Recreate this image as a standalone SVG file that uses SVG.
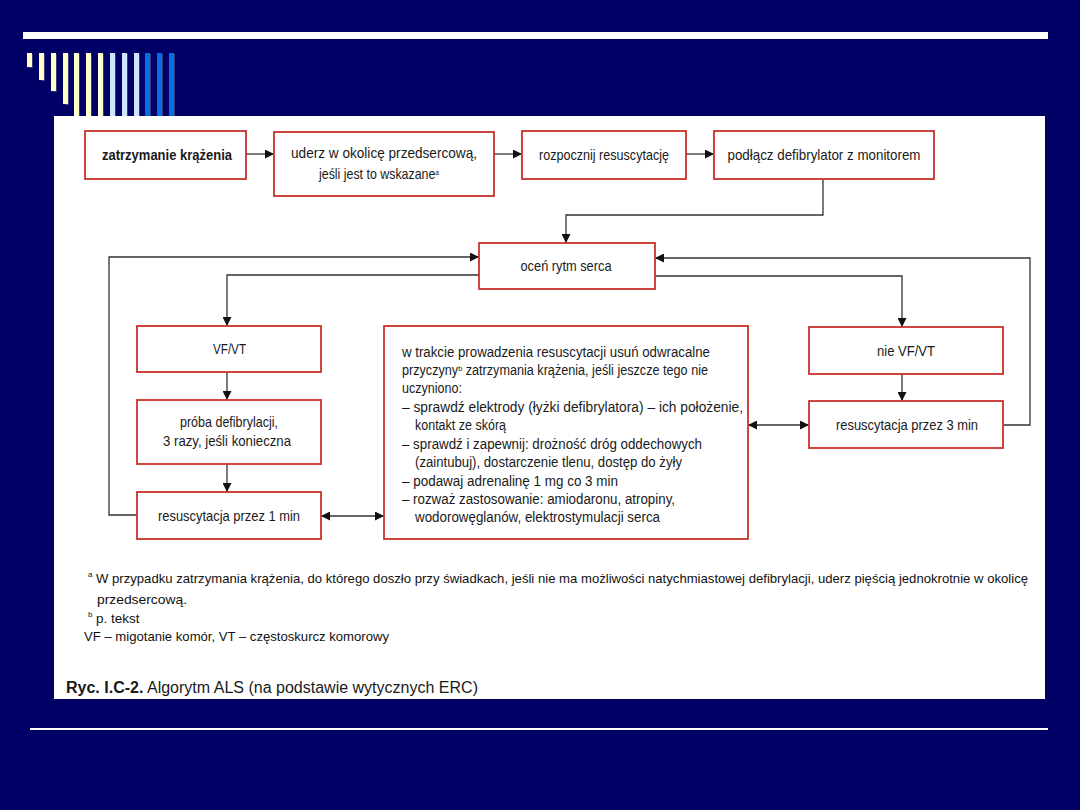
<svg xmlns="http://www.w3.org/2000/svg" width="1080" height="810" viewBox="0 0 1080 810">
<defs>
<marker id="ah" viewBox="0 0 10 10" refX="10" refY="5" markerWidth="10" markerHeight="9" markerUnits="userSpaceOnUse" orient="auto-start-reverse">
<path d="M0,0 L10,5 L0,10 z" fill="#111"/>
</marker>
<style>
.box{fill:#fff;stroke:#c9342a;stroke-width:1.8}
.t{font-family:"Liberation Sans",Arial,sans-serif;font-size:15px;fill:#1a1a1a}
.tb{font-family:"Liberation Sans",Arial,sans-serif;font-size:15px;font-weight:bold;fill:#1a1a1a}
.c{text-anchor:middle}
.m{font-family:"Liberation Sans",Arial,sans-serif;font-size:14px;fill:#1a1a1a}
.f{font-family:"Liberation Sans",Arial,sans-serif;font-size:13.5px;fill:#111}
.sup{font-size:8px}
.cap{font-family:"Liberation Sans",Arial,sans-serif;font-size:16px;fill:#1a1a1a}
.ln{fill:none;stroke:#333;stroke-width:1.3}
.cr{fill:#ffffcc}
.lb{fill:#cce6ff}
.bl{fill:#0070e6}
.sh{fill:#3a3a7a}
</style>
</defs>
<rect x="0" y="0" width="1080" height="810" fill="#000066"/>
<g id="decoration">
<rect x="23" y="32" width="1025" height="7" fill="#ffffff"/>
<rect x="30" y="728" width="1018" height="2" fill="#ffffff"/>
<rect class="sh" x="29" y="54" width="4" height="14"/>
<rect class="sh" x="41" y="54" width="4" height="27"/>
<rect class="sh" x="53" y="54" width="4" height="38"/>
<rect class="sh" x="65" y="54" width="4" height="51"/>
<rect class="sh" x="76" y="54" width="4" height="62"/>
<rect class="sh" x="88" y="54" width="4" height="62"/>
<rect class="sh" x="100" y="54" width="4" height="62"/>
<rect class="sh" x="112" y="54" width="4" height="62"/>
<rect class="sh" x="124" y="54" width="4" height="62"/>
<rect class="sh" x="136" y="54" width="4" height="62"/>
<rect class="sh" x="147" y="54" width="4" height="62"/>
<rect class="sh" x="159" y="54" width="4" height="62"/>
<rect class="sh" x="171" y="54" width="4" height="62"/>
<rect class="cr" x="27" y="53" width="5" height="14"/>
<rect class="cr" x="39" y="53" width="5" height="27"/>
<rect class="cr" x="51" y="53" width="5" height="38"/>
<rect class="cr" x="63" y="53" width="5" height="51"/>
<rect class="cr" x="74" y="53" width="5" height="63"/>
<rect class="cr" x="86" y="53" width="5" height="63"/>
<rect class="cr" x="98" y="53" width="5" height="63"/>
<rect class="lb" x="110" y="53" width="5" height="63"/>
<rect class="lb" x="122" y="53" width="5" height="63"/>
<rect class="lb" x="134" y="53" width="5" height="63"/>
<rect class="bl" x="145" y="53" width="5" height="63"/>
<rect class="bl" x="157" y="53" width="5" height="63"/>
<rect class="bl" x="169" y="53" width="5" height="63"/>
</g>
<rect x="54" y="116" width="991" height="583" fill="#ffffff"/>
<g id="connectors">
<line class="ln" x1="246" y1="154" x2="274" y2="154" marker-end="url(#ah)"/>
<line class="ln" x1="494" y1="154" x2="522" y2="154" marker-end="url(#ah)"/>
<line class="ln" x1="686" y1="154" x2="714" y2="154" marker-end="url(#ah)"/>
<polyline class="ln" points="823,179 823,215 566,215 566,243" marker-end="url(#ah)"/>
<polyline class="ln" points="137,515 109,515 109,257 479,257" marker-end="url(#ah)"/>
<polyline class="ln" points="479,275 227,275 227,326" marker-end="url(#ah)"/>
<polyline class="ln" points="655,276 902,276 902,327" marker-end="url(#ah)"/>
<polyline class="ln" points="1003,425 1030,425 1030,258 655,258" marker-end="url(#ah)"/>
<line class="ln" x1="227" y1="372" x2="227" y2="400" marker-end="url(#ah)"/>
<line class="ln" x1="227" y1="464" x2="227" y2="492" marker-end="url(#ah)"/>
<line class="ln" x1="902" y1="374" x2="902" y2="401" marker-end="url(#ah)"/>
<line class="ln" x1="321" y1="516" x2="384" y2="516" marker-start="url(#ah)" marker-end="url(#ah)"/>
<line class="ln" x1="748" y1="425" x2="809" y2="425" marker-start="url(#ah)" marker-end="url(#ah)"/>
</g>
<g id="n1">
<rect class="box" x="85" y="131" width="161" height="48"/>
<text class="tb c" x="167" y="160" textLength="130" lengthAdjust="spacingAndGlyphs">zatrzymanie krążenia</text>
</g>
<g id="n2">
<rect class="box" x="274" y="132" width="220" height="64"/>
<text class="t c" x="384" y="158" textLength="186" lengthAdjust="spacingAndGlyphs">uderz w okolicę przedsercową,</text>
<text class="t c" x="379" y="179" textLength="120" lengthAdjust="spacingAndGlyphs">jeśli jest to wskazane<tspan class="sup" dy="-4">a</tspan></text>
</g>
<g id="n3">
<rect class="box" x="522" y="131" width="164" height="48"/>
<text class="t c" x="604" y="160" textLength="130" lengthAdjust="spacingAndGlyphs">rozpocznij resuscytację</text>
</g>
<g id="n4">
<rect class="box" x="714" y="131" width="220" height="48"/>
<text class="t c" x="824" y="160" textLength="193" lengthAdjust="spacingAndGlyphs">podłącz defibrylator z monitorem</text>
</g>
<g id="n5">
<rect class="box" x="479" y="243" width="176" height="46"/>
<text class="t c" x="566" y="271" textLength="91" lengthAdjust="spacingAndGlyphs">oceń rytm serca</text>
</g>
<g id="n6">
<rect class="box" x="137" y="326" width="184" height="46"/>
<text class="t c" x="229.5" y="354" textLength="33" lengthAdjust="spacingAndGlyphs">VF/VT</text>
</g>
<g id="n7">
<rect class="box" x="137" y="400" width="184" height="64"/>
<text class="t c" x="229" y="427" textLength="98" lengthAdjust="spacingAndGlyphs">próba defibrylacji,</text>
<text class="t c" x="227" y="446" textLength="128" lengthAdjust="spacingAndGlyphs">3 razy, jeśli konieczna</text>
</g>
<g id="n8">
<rect class="box" x="137" y="492" width="184" height="47"/>
<text class="t c" x="229" y="521" textLength="142" lengthAdjust="spacingAndGlyphs">resuscytacja przez 1 min</text>
</g>
<g id="n9">
<rect class="box" x="384" y="326" width="364" height="213"/>
<text class="m" x="402" y="357" textLength="308" lengthAdjust="spacingAndGlyphs">w trakcie prowadzenia resuscytacji usuń odwracalne</text>
<text class="m" x="402" y="375" textLength="306" lengthAdjust="spacingAndGlyphs">przyczyny<tspan class="sup" dy="-4">b</tspan><tspan dy="4"> zatrzymania krążenia, jeśli jeszcze tego nie</tspan></text>
<text class="m" x="402" y="393" textLength="60" lengthAdjust="spacingAndGlyphs">uczyniono:</text>
<text class="m" x="402" y="412" textLength="341" lengthAdjust="spacingAndGlyphs">– sprawdź elektrody (łyżki defibrylatora) – ich położenie,</text>
<text class="m" x="415" y="430" textLength="91" lengthAdjust="spacingAndGlyphs">kontakt ze skórą</text>
<text class="m" x="402" y="449" textLength="300" lengthAdjust="spacingAndGlyphs">– sprawdź i zapewnij: drożność dróg oddechowych</text>
<text class="m" x="415" y="467" textLength="267" lengthAdjust="spacingAndGlyphs">(zaintubuj), dostarczenie tlenu, dostęp do żyły</text>
<text class="m" x="402" y="486" textLength="216" lengthAdjust="spacingAndGlyphs">– podawaj adrenalinę 1 mg co 3 min</text>
<text class="m" x="402" y="504" textLength="273" lengthAdjust="spacingAndGlyphs">– rozważ zastosowanie: amiodaronu, atropiny,</text>
<text class="m" x="415" y="522" textLength="245" lengthAdjust="spacingAndGlyphs">wodorowęglanów, elektrostymulacji serca</text>
</g>
<g id="n10">
<rect class="box" x="809" y="327" width="194" height="47"/>
<text class="t c" x="906" y="356" textLength="58" lengthAdjust="spacingAndGlyphs">nie VF/VT</text>
</g>
<g id="n11">
<rect class="box" x="809" y="401" width="194" height="47"/>
<text class="t c" x="907" y="430" textLength="142" lengthAdjust="spacingAndGlyphs">resuscytacja przez 3 min</text>
</g>
<g id="footnotes">
<text class="f sup" x="88" y="577">a</text>
<text class="f" x="96" y="583" textLength="932" lengthAdjust="spacingAndGlyphs">W przypadku zatrzymania krążenia, do którego doszło przy świadkach, jeśli nie ma możliwości natychmiastowej defibrylacji, uderz pięścią jednokrotnie w okolicę</text>
<text class="f" x="97" y="604" textLength="90" lengthAdjust="spacingAndGlyphs">przedsercową.</text>
<text class="f sup" x="88" y="617">b</text>
<text class="f" x="96" y="623">p. tekst</text>
<text class="f" x="84" y="641" textLength="305" lengthAdjust="spacingAndGlyphs">VF – migotanie komór, VT – częstoskurcz komorowy</text>
<text class="cap" x="66" y="693" textLength="412" lengthAdjust="spacingAndGlyphs"><tspan font-weight="bold">Ryc. I.C-2.</tspan> Algorytm ALS (na podstawie wytycznych ERC)</text>
</g>
</svg>
